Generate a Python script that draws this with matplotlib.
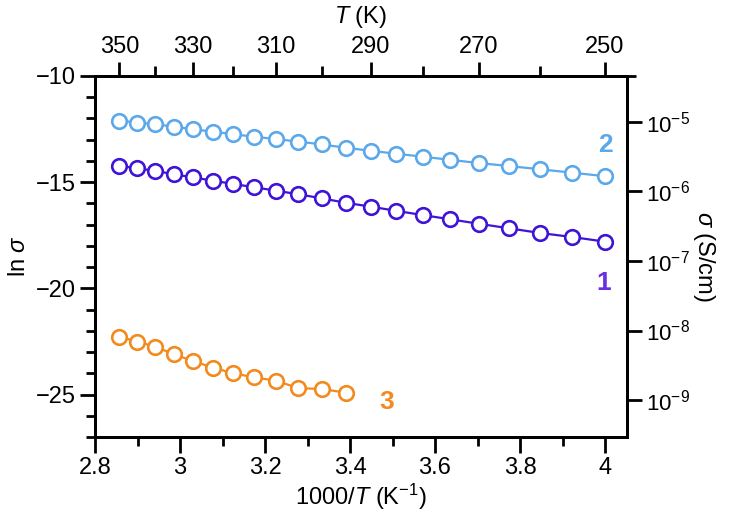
import numpy as np
import matplotlib
matplotlib.use("Agg")
import matplotlib.pyplot as plt
from matplotlib.ticker import FixedLocator, NullFormatter

plt.rcParams['font.family'] = ['Liberation Sans', 'DejaVu Sans']
plt.rcParams['mathtext.fontset'] = 'custom'
plt.rcParams['mathtext.rm'] = 'Liberation Sans'
plt.rcParams['mathtext.it'] = 'Liberation Sans:italic'
plt.rcParams['mathtext.bf'] = 'Liberation Sans:bold'

# ---- data ----
T_12 = [350, 345, 340, 335, 330, 325, 320, 315, 310, 305, 300, 295,
        290, 285, 280, 275, 270, 265, 260, 255, 250]
T_3 = [350, 345, 340, 335, 330, 325, 320, 315, 310, 305, 300, 295]

ln_sigma_2 = [-12.10, -12.19, -12.27, -12.38, -12.51, -12.62, -12.74, -12.86,
              -12.97, -13.09, -13.22, -13.38, -13.52, -13.66, -13.80, -13.95,
              -14.10, -14.24, -14.39, -14.55, -14.72]
ln_sigma_1 = [-14.22, -14.35, -14.46, -14.63, -14.77, -14.93, -15.08, -15.24,
              -15.40, -15.57, -15.76, -15.97, -16.15, -16.35, -16.55, -16.75,
              -16.96, -17.17, -17.39, -17.58, -17.80]
ln_sigma_3 = [-22.27, -22.51, -22.74, -23.10, -23.42, -23.73, -24.00, -24.19,
              -24.35, -24.70, -24.74, -24.91]

series_labels = ['1', '2', '3']
colors = {'1': '#3f14d6', '2': '#5ba8ea', '3': '#f28a1e'}

x_ticks = [2.8, 3.0, 3.2, 3.4, 3.6, 3.8, 4.0]
x_ticklabels = ['2.8', '3', '3.2', '3.4', '3.6', '3.8', '4']
y_ticks = [-10, -15, -20, -25]
y_ticklabels = ['\u221210', '\u221215', '\u221220', '\u221225']
T_top_major = [350, 330, 310, 290, 270, 250]
T_top_minor = [340, 320, 300, 280, 260]
sigma_ticks = [1e-5, 1e-6, 1e-7, 1e-8, 1e-9]
sigma_ticklabels = [r'$10^{-5}$', r'$10^{-6}$', r'$10^{-7}$', r'$10^{-8}$', r'$10^{-9}$']

FS = 17
LW = 2.0

fig = plt.figure(figsize=(7.31, 5.20), dpi=100)
ax = fig.add_axes([95/731, 1 - 437/520, (627-95)/731, (437-76)/520])

x12 = 1000.0 / np.array(T_12)
x3 = 1000.0 / np.array(T_3)
for x, y, key in [(x12, ln_sigma_2, '2'), (x12, ln_sigma_1, '1'), (x3, ln_sigma_3, '3')]:
    ax.plot(x, y, '-', color=colors[key], lw=1.6, marker='o', ms=10.5,
            mfc='white', mec=colors[key], mew=1.9, zorder=3)

ax.text(4.002, -13.25, '2', color=colors['2'], fontsize=19, fontweight='bold',
        ha='center', va='center')
ax.text(3.998, -19.75, '1', color='#6a30e0', fontsize=19, fontweight='bold',
        ha='center', va='center')
ax.text(3.486, -25.33, '3', color=colors['3'], fontsize=19, fontweight='bold',
        ha='center', va='center')

xlim = (2.8, 2.8 + (627-95)/425.0)
ylim = (-27, -10)
ax.set_xlim(*xlim)
ax.set_ylim(*ylim)
ax.set_xticks(x_ticks)
ax.set_xticklabels(x_ticklabels)
ax.xaxis.set_minor_locator(FixedLocator([2.9, 3.1, 3.3, 3.5, 3.7, 3.9]))
ax.set_yticks(y_ticks)
ax.set_yticklabels(y_ticklabels)
ax.yaxis.set_minor_locator(FixedLocator(list(range(-27, -9))))
ax.tick_params(axis='x', which='major', direction='out', length=11.5, width=LW,
               labelsize=FS, pad=3)
ax.tick_params(axis='x', which='minor', direction='out', length=6.5, width=LW)
ax.tick_params(axis='y', which='major', direction='out', length=10.8, width=LW,
               labelsize=FS, pad=3)
ax.tick_params(axis='y', which='minor', direction='out', length=6.5, width=LW)
ax.tick_params(right=False, top=False, which='both')
for s in ax.spines.values():
    s.set_linewidth(LW)
ax.set_xlabel(r'1000/$T$ (K$^{-1}$)', fontsize=FS, labelpad=2)
ax.set_ylabel(r'ln $\sigma$', fontsize=FS, labelpad=4)

# top axis: temperature
axt = ax.twiny()
axt.set_xlim(*xlim)
axt.set_xticks([1000.0 / t for t in T_top_major])
axt.set_xticklabels([str(t) for t in T_top_major])
axt.xaxis.set_minor_locator(FixedLocator([1000.0 / t for t in T_top_minor]))
axt.tick_params(axis='x', which='major', direction='out', length=10, width=LW,
                labelsize=FS, pad=3)
axt.tick_params(axis='x', which='minor', direction='out', length=7.5, width=LW)
axt.set_xlabel(r'$T$ (K)', fontsize=FS, labelpad=9)
for s in axt.spines.values():
    s.set_linewidth(LW)

# right axis: sigma
axr = ax.twinx()
axr.set_yscale('log')
top_val = 10 ** -4.343
axr.set_ylim(10 ** -9.53, top_val)
axr.yaxis.set_major_locator(FixedLocator(sigma_ticks))
axr.set_yticklabels(sigma_ticklabels)
axr.yaxis.set_minor_locator(FixedLocator([top_val]))
axr.yaxis.set_minor_formatter(NullFormatter())
axr.tick_params(axis='y', which='major', direction='out', length=11, width=LW,
                labelsize=16, pad=2.5)
axr.tick_params(axis='y', which='minor', direction='out', length=6.5, width=LW)
axr.set_ylabel(r'$\sigma$ (S/cm)', fontsize=FS, rotation=270, va='center')
axr.yaxis.set_label_coords((704 - 95) / 532.0, 0.5)
for s in axr.spines.values():
    s.set_linewidth(LW)

fig.savefig('out.png', dpi=100)
